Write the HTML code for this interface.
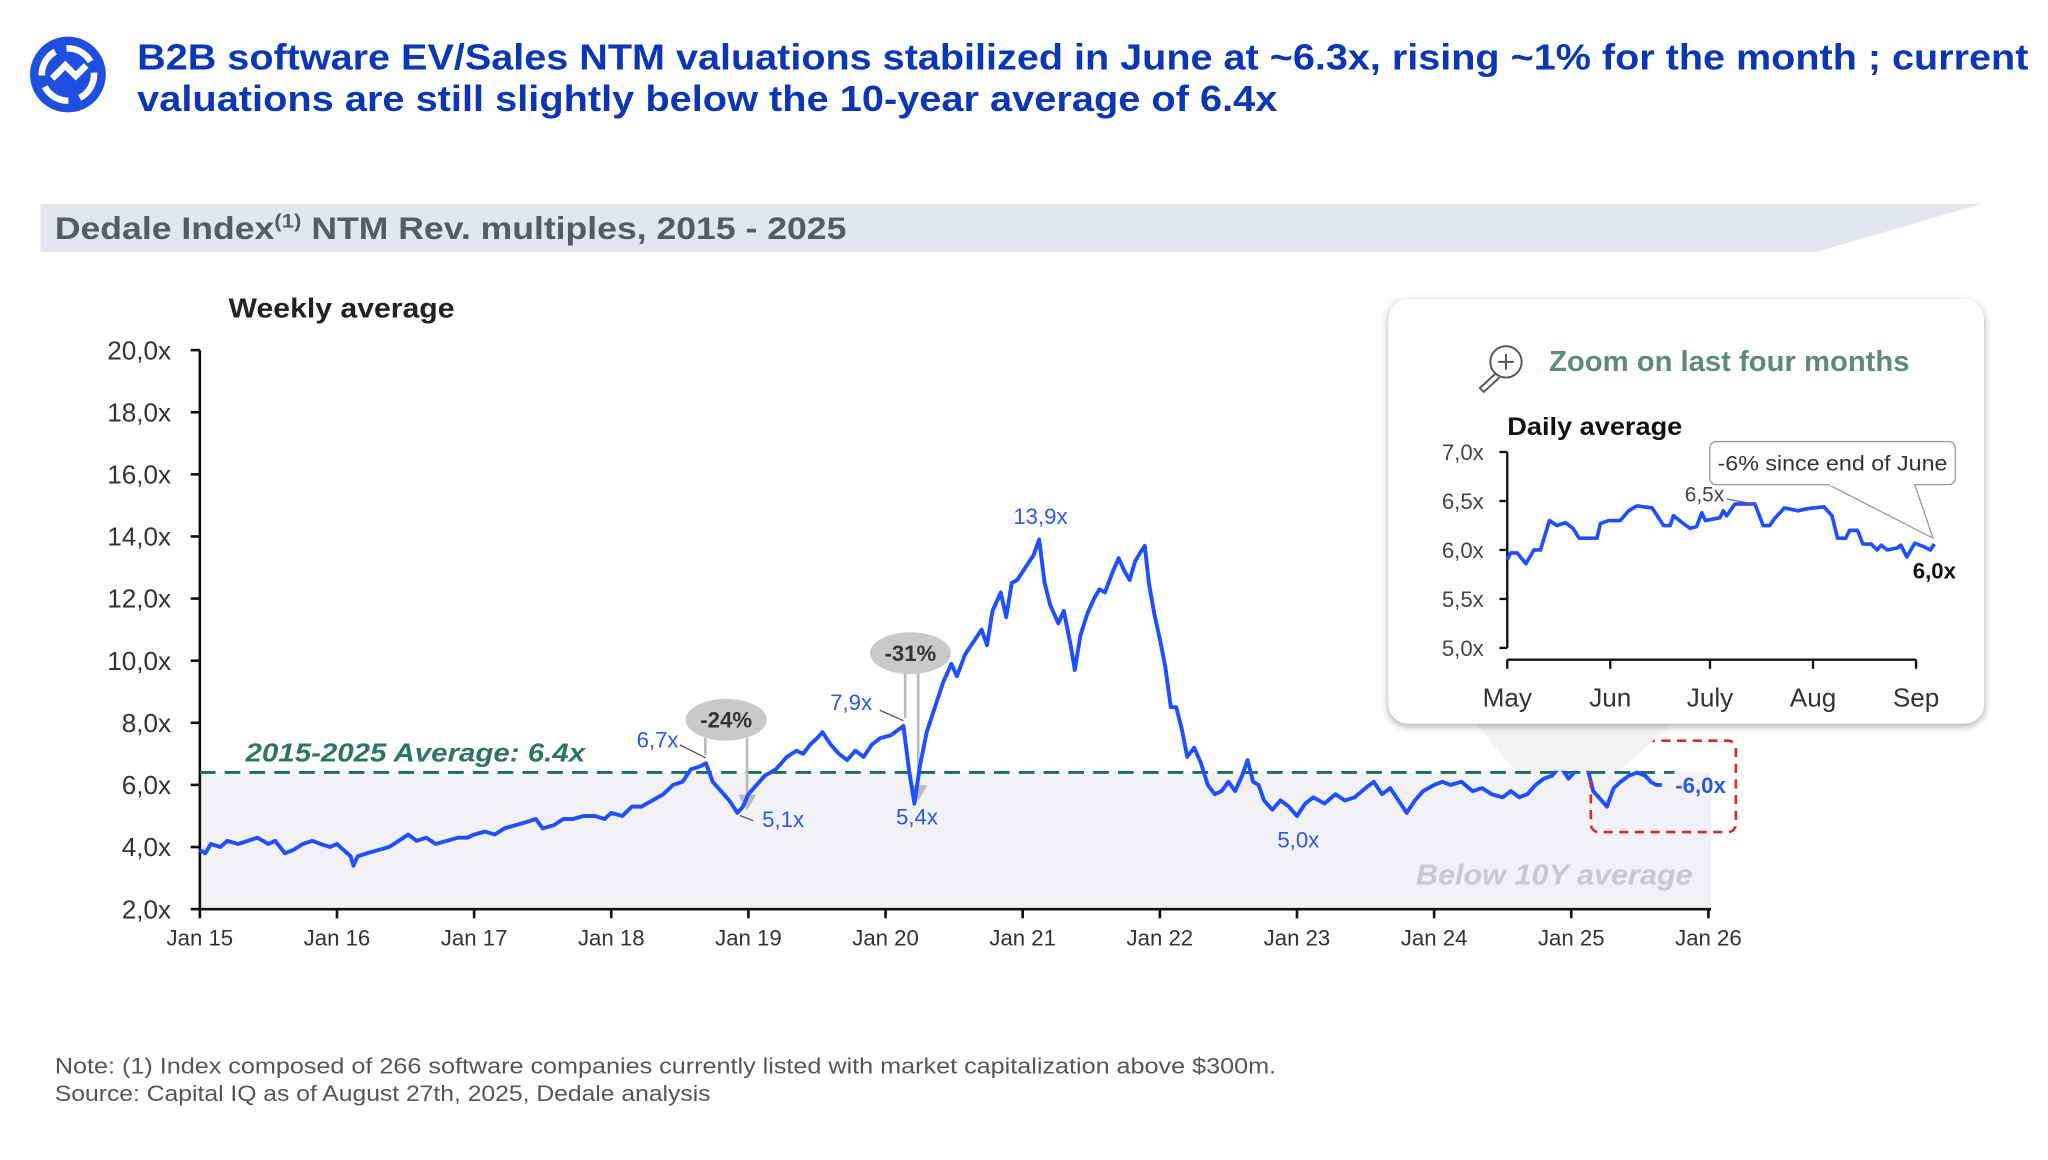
<!DOCTYPE html>
<html><head><meta charset="utf-8"><style>
html,body{margin:0;padding:0;background:#fff;}
svg{display:block;font-family:"Liberation Sans",sans-serif;}
</style></head><body>
<svg id="root" width="2048" height="1160" viewBox="0 0 1568 888" xmlns="http://www.w3.org/2000/svg">
<defs>
<filter id="sh" x="-10%" y="-10%" width="120%" height="125%"><feDropShadow dx="0" dy="2" stdDeviation="3" flood-color="#000" flood-opacity="0.35"/></filter>
</defs>
<g>
<circle cx="52" cy="57" r="29" fill="#1f4fe0"/>
<circle cx="52" cy="57" r="20" fill="none" stroke="#fff" stroke-width="5" stroke-dasharray="22 9"/>
<path d="M40 60 L50 50 L58 58 L66 50" fill="none" stroke="#fff" stroke-width="5"/>
</g>
<text x="105" y="53" font-size="28" font-weight="bold" fill="#0b37b5" textLength="1448" lengthAdjust="spacingAndGlyphs">B2B software EV/Sales NTM valuations stabilized in June at ~6.3x, rising ~1% for the month ; current</text>
<text x="105" y="85" font-size="28" font-weight="bold" fill="#0b37b5" textLength="873" lengthAdjust="spacingAndGlyphs">valuations are still slightly below the 10-year average of 6.4x</text>
<polygon points="31,156 1517,156 1390,193 31,193" fill="#e3e6ef"/>
<text x="42" y="183" font-size="24" font-weight="bold" fill="#555a66" textLength="606" lengthAdjust="spacingAndGlyphs">Dedale Index<tspan font-size="15" dy="-9">(1)</tspan><tspan dy="9"> NTM Rev. multiples, 2015 - 2025</tspan></text>
<text x="175" y="243" font-size="21" font-weight="bold" fill="#222" textLength="173" lengthAdjust="spacingAndGlyphs">Weekly average</text>
<g id="main"></g>
<g><polygon points="1130,554 1280,554 1240,590 1160,590" fill="#f3f3f3"/></g>
<rect x="1063" y="229" width="456" height="325" rx="15" fill="#fff" filter="url(#sh)"/>
<g fill="none" stroke="#555" stroke-width="1.5">
<circle cx="1153" cy="277" r="12"/><path d="M1147 277h12M1153 271v12"/><path d="M1145 286 L1133 297 L1136 300 L1148 289"/>
</g>
<text x="1186" y="284" font-size="22" font-weight="bold" fill="#5d8a7e" textLength="276" lengthAdjust="spacingAndGlyphs">Zoom on last four months</text>
<text x="1154" y="333" font-size="19" font-weight="bold" fill="#111" textLength="134" lengthAdjust="spacingAndGlyphs">Daily average</text>
<g id="inset"></g>
<g>
<rect x="1309" y="338" width="188" height="33" rx="5" fill="#fff" stroke="#999" stroke-width="1"/>
<polyline points="1400,371 1480,412 1466,371" fill="#fff" stroke="#999" stroke-width="1"/>
<rect x="1401" y="369" width="64" height="3" fill="#fff"/>
<text x="1403" y="360" font-size="16" fill="#333" text-anchor="middle" textLength="176" lengthAdjust="spacingAndGlyphs">-6% since end of June</text>
</g>
<text x="42" y="822" font-size="17" fill="#555" textLength="935" lengthAdjust="spacingAndGlyphs">Note: (1) Index composed of 266 software companies currently listed with market capitalization above $300m.</text>
<text x="42" y="843" font-size="17" fill="#555" textLength="502" lengthAdjust="spacingAndGlyphs">Source: Capital IQ as of August 27th, 2025, Dedale analysis</text>
</svg>
<script>
// ---- Main chart data ----
const mainDates = [2015.00,2015.04,2015.08,2015.15,2015.2,2015.28,2015.35,2015.42,2015.5,2015.55,2015.62,2015.68,2015.75,2015.82,2015.88,2015.95,
2016.0,2016.05,2016.1,2016.12,2016.15,2016.22,2016.3,2016.38,2016.45,2016.52,2016.58,2016.65,2016.72,2016.8,2016.88,2016.95,
2017.0,2017.08,2017.15,2017.22,2017.3,2017.38,2017.45,2017.5,2017.58,2017.65,2017.72,2017.8,2017.88,2017.95,
2018.0,2018.08,2018.15,2018.22,2018.3,2018.38,2018.45,2018.52,2018.58,2018.65,2018.69,2018.74,2018.8,2018.86,2018.92,2018.96,
2019.0,2019.06,2019.12,2019.2,2019.28,2019.35,2019.4,2019.45,2019.5,2019.54,2019.6,2019.66,2019.72,2019.78,2019.84,2019.9,2019.96,
2020.04,2020.1,2020.13,2020.17,2020.21,2020.25,2020.3,2020.36,2020.42,2020.48,2020.52,2020.58,2020.64,2020.7,2020.74,2020.78,2020.84,2020.88,2020.92,2020.96,
2021.02,2021.08,2021.12,2021.16,2021.2,2021.26,2021.3,2021.35,2021.38,2021.42,2021.47,2021.52,2021.56,2021.6,2021.66,2021.7,2021.74,2021.78,2021.82,2021.86,2021.89,2021.92,2021.96,
2022.0,2022.04,2022.08,2022.12,2022.16,2022.2,2022.25,2022.3,2022.35,2022.4,2022.45,2022.5,2022.55,2022.6,2022.64,2022.68,2022.72,2022.76,2022.82,2022.88,2022.94,
2023.0,2023.06,2023.12,2023.2,2023.28,2023.35,2023.42,2023.5,2023.56,2023.62,2023.68,2023.74,2023.8,2023.86,2023.92,
2024.0,2024.06,2024.12,2024.2,2024.28,2024.35,2024.42,2024.5,2024.56,2024.62,2024.68,2024.74,2024.8,2024.86,2024.92,2024.98,
2025.04,2025.09,2025.12,2025.16,2025.2,2025.26,2025.31,2025.36,2025.42,2025.48,2025.54,2025.58,2025.62,2025.66];
const mainValues = [3.9,3.8,4.1,4.0,4.2,4.1,4.2,4.3,4.1,4.2,3.8,3.9,4.1,4.2,4.1,4.0,
4.1,3.9,3.7,3.4,3.7,3.8,3.9,4.0,4.2,4.4,4.2,4.3,4.1,4.2,4.3,4.3,
4.4,4.5,4.4,4.6,4.7,4.8,4.9,4.6,4.7,4.9,4.9,5.0,5.0,4.9,
5.1,5.0,5.3,5.3,5.5,5.7,6.0,6.1,6.5,6.6,6.7,6.1,5.8,5.5,5.1,5.3,
5.7,6.0,6.3,6.5,6.9,7.1,7.0,7.3,7.5,7.7,7.3,7.0,6.8,7.1,6.9,7.3,7.5,
7.6,7.8,7.9,6.5,5.4,6.6,7.7,8.5,9.3,9.9,9.5,10.2,10.6,11.0,10.5,11.6,12.2,11.4,12.5,12.6,
13.0,13.4,13.9,12.5,11.8,11.2,11.6,10.5,9.7,10.8,11.5,12.0,12.3,12.2,12.9,13.3,12.9,12.6,13.2,13.5,13.7,12.5,11.5,
10.7,9.8,8.5,8.5,7.8,6.9,7.2,6.7,6.0,5.7,5.8,6.1,5.8,6.3,6.8,6.1,6.0,5.5,5.2,5.5,5.3,
5.0,5.4,5.6,5.4,5.7,5.5,5.6,5.9,6.1,5.7,5.9,5.5,5.1,5.5,5.8,
6.0,6.1,6.0,6.1,5.8,5.9,5.7,5.6,5.8,5.6,5.7,6.0,6.2,6.3,6.6,6.2,
6.5,6.8,6.5,5.8,5.6,5.3,5.9,6.1,6.3,6.4,6.3,6.1,6.0,6.0];
const yTicks = [2,4,6,8,10,12,14,16,18,20];
const yTickLabels = ["2,0x","4,0x","6,0x","8,0x","10,0x","12,0x","14,0x","16,0x","18,0x","20,0x"];
const xTickYears = [2015,2016,2017,2018,2019,2020,2021,2022,2023,2024,2025,2026];
const xTickLabels = ["Jan 15","Jan 16","Jan 17","Jan 18","Jan 19","Jan 20","Jan 21","Jan 22","Jan 23","Jan 24","Jan 25","Jan 26"];
const averageValue = 6.4;
const peakLabels = ["6,7x","5,1x","7,9x","5,4x","13,9x","5,0x"];
const peakDates = [2018.69,2018.92,2020.13,2020.21,2021.12,2023.0];
const peakValues = [6.7,5.1,7.9,5.4,13.9,5.0];
// ---- Inset data ----
const insetDays = [0,1,3,5.6,8,10,12.7,15,17.5,19.8,21.6,27,28,30.5,34,36.5,39,43.6,47,49,50,53,55,57,58.5,59.6,64,65,66,68.5,74.5,77,79,80.4,83.4,87.6,90,95.3,97.7,99.4,101.8,103,105.4,107,109.5,111.3,112.5,114.3,117.3,118.4,120.2,122.6,125.6,127.3,128.5];
const insetValues = [5.9,5.97,5.97,5.86,6.0,6.0,6.3,6.25,6.28,6.22,6.12,6.12,6.27,6.3,6.3,6.4,6.45,6.43,6.25,6.25,6.35,6.27,6.22,6.24,6.38,6.3,6.33,6.4,6.35,6.47,6.47,6.25,6.25,6.32,6.43,6.4,6.42,6.44,6.35,6.12,6.12,6.2,6.2,6.06,6.06,6.0,6.05,6.0,6.02,6.05,5.93,6.07,6.03,6.0,6.06];
const insetYTicks = [5.0,5.5,6.0,6.5,7.0];
const insetYLabels = ["5,0x","5,5x","6,0x","6,5x","7,0x"];
const insetMonthDays = [0,31,61,92,123];
const insetMonthLabels = ["May","Jun","July","Aug","Sep"];

const NS="http://www.w3.org/2000/svg";
function mk(parent,tag,attrs,text){const e=document.createElementNS(NS,tag);for(const k in attrs)e.setAttribute(k,attrs[k]);if(text!==undefined)e.textContent=text;parent.appendChild(e);return e;}
const X=d=>153+(d-2015)*105;
const Y=v=>696-(v-2)*(428/18);
const main=document.getElementById('main');

let el=mk(main,'rect',{x:153,y:Y(averageValue),width:1157,height:696-Y(averageValue),fill:'#f2f1f6'});


el=mk(main,'text',{x:1190,y:677,'font-size':22,'font-weight':'bold','font-style':'italic',fill:'#c9c9cc','text-anchor':'middle',textLength:212,lengthAdjust:'spacingAndGlyphs'},'Below 10Y average');


// axes
el=mk(main,'path',{d:`M153 ${Y(20)} V696 H1310`,fill:'none',stroke:'#111','stroke-width':2});


yTicks.forEach((t,i)=>{
  mk(main,'line',{x1:146,x2:153,y1:Y(t),y2:Y(t),stroke:'#111','stroke-width':2});
  const tx=mk(main,'text',{x:131,y:Y(t)+7,'font-size':20,fill:'#333','text-anchor':'end'},yTickLabels[i]);
  
  
});
xTickYears.forEach((t,i)=>{
  mk(main,'line',{x1:X(t),x2:X(t),y1:696,y2:703,stroke:'#111','stroke-width':2});
  const tx=mk(main,'text',{x:X(t),y:724,'font-size':17,fill:'#333','text-anchor':'middle'},xTickLabels[i]);
  
  
});
// average line
el=mk(main,'line',{x1:153,x2:1282,y1:Y(averageValue),y2:Y(averageValue),stroke:'#1d6e60','stroke-width':2.2,'stroke-dasharray':'12 7'});


el=mk(main,'text',{x:188,y:583,'font-size':20,'font-weight':'bold','font-style':'italic',fill:'#2e7466',textLength:260,lengthAdjust:'spacingAndGlyphs'},'2015-2025 Average: 6.4x');


// drawdown markers
function bubble(cx,cy,label,x1,x2,yEnd){
  const g=mk(main,'g',{});
  
  
  mk(g,'line',{x1:x1,x2:x1,y1:cy+14,y2:Y(yEnd[0])-6,stroke:'#bbb','stroke-width':2});
  mk(g,'line',{x1:x2,x2:x2,y1:cy+14,y2:Y(yEnd[1])-12,stroke:'#bbb','stroke-width':2});
  mk(g,'polygon',{points:`${x2-7},${Y(yEnd[1])-14} ${x2+7},${Y(yEnd[1])-14} ${x2},${Y(yEnd[1])-2}`,fill:'#bbb'});
  mk(g,'ellipse',{cx:cx,cy:cy,rx:31,ry:16,fill:'#c9c9c9'});
  mk(g,'text',{x:cx,y:cy+6,'font-size':17,'font-weight':'bold',fill:'#333','text-anchor':'middle'},label);
}
bubble(556,551,'-24%',540,572,[6.7,5.1]);
bubble(697,500,'-31%',693,703,[7.9,5.4]);
// main line
let d='';mainDates.forEach((t,i)=>{d+=(i?'L':'M')+X(t).toFixed(1)+' '+Y(mainValues[i]).toFixed(1);});
el=mk(main,'path',{d:d,fill:'none',stroke:'#1f4fff','stroke-width':3,'stroke-linejoin':'round'});


// peak labels
const offs=[[-37,-18],[35,5],[-40,-18],[2,10],[1,-18],[1,18]];
peakDates.forEach((t,i)=>{
  const tx=mk(main,'text',{x:X(t)+offs[i][0],y:Y(peakValues[i])+offs[i][1]+6,'font-size':17,fill:'#2a5ae0','text-anchor':'middle'},peakLabels[i]);
  
  
});
mk(main,'line',{x1:X(2018.69)-20,y1:Y(6.7)-14,x2:X(2018.69),y2:Y(6.7)-4,stroke:'#555','stroke-width':1});
mk(main,'line',{x1:X(2020.13)-18,y1:Y(7.9)-12,x2:X(2020.13),y2:Y(7.9)-4,stroke:'#555','stroke-width':1});
mk(main,'line',{x1:X(2018.92)+2,y1:Y(5.1)+2,x2:X(2018.92)+12,y2:Y(5.1)+6,stroke:'#555','stroke-width':1});
el=mk(main,'text',{x:1302,y:607,'font-size':17,'font-weight':'bold',fill:'#2a5ae0','text-anchor':'middle'},'-6,0x');


el=mk(main,'rect',{x:1218,y:567,width:111,height:70,rx:6,fill:'none',stroke:'#d62b2b','stroke-width':2,'stroke-dasharray':'7 5'});



// inset
const ins=document.getElementById('inset');
const IX=d=>1154+d*(313/123);
const IY=v=>496-(v-5)*75;
el=mk(ins,'path',{d:`M1154 ${IY(7)} V${IY(5)}`,fill:'none',stroke:'#111','stroke-width':1.8});


el=mk(ins,'line',{x1:1154,x2:1467,y1:505,y2:505,stroke:'#111','stroke-width':1.8});


insetYTicks.forEach((t,i)=>{
  mk(ins,'line',{x1:1148,x2:1154,y1:IY(t),y2:IY(t),stroke:'#111','stroke-width':1.8});
  const tx=mk(ins,'text',{x:1136,y:IY(t)+6,'font-size':17,fill:'#444','text-anchor':'end'},insetYLabels[i]);
  
  
});
insetMonthDays.forEach((t,i)=>{
  mk(ins,'line',{x1:IX(t),x2:IX(t),y1:505,y2:512,stroke:'#111','stroke-width':1.8});
  const tx=mk(ins,'text',{x:IX(t),y:541,'font-size':20,fill:'#333','text-anchor':'middle'},insetMonthLabels[i]);
  
  
});
d='';insetDays.forEach((t,i)=>{d+=(i?'L':'M')+IX(t).toFixed(1)+' '+IY(insetValues[i]).toFixed(1);});
el=mk(ins,'path',{d:d,fill:'none',stroke:'#1f4fff','stroke-width':2.8,'stroke-linejoin':'round'});


el=mk(ins,'text',{x:1305,y:384,'font-size':16,fill:'#444','text-anchor':'middle'},'6,5x');


mk(ins,'line',{x1:1322,y1:382,x2:1344,y2:386,stroke:'#666','stroke-width':1});
el=mk(ins,'text',{x:1481,y:443,'font-size':17,'font-weight':'bold',fill:'#111','text-anchor':'middle'},'6,0x');


</script>
</body></html>
